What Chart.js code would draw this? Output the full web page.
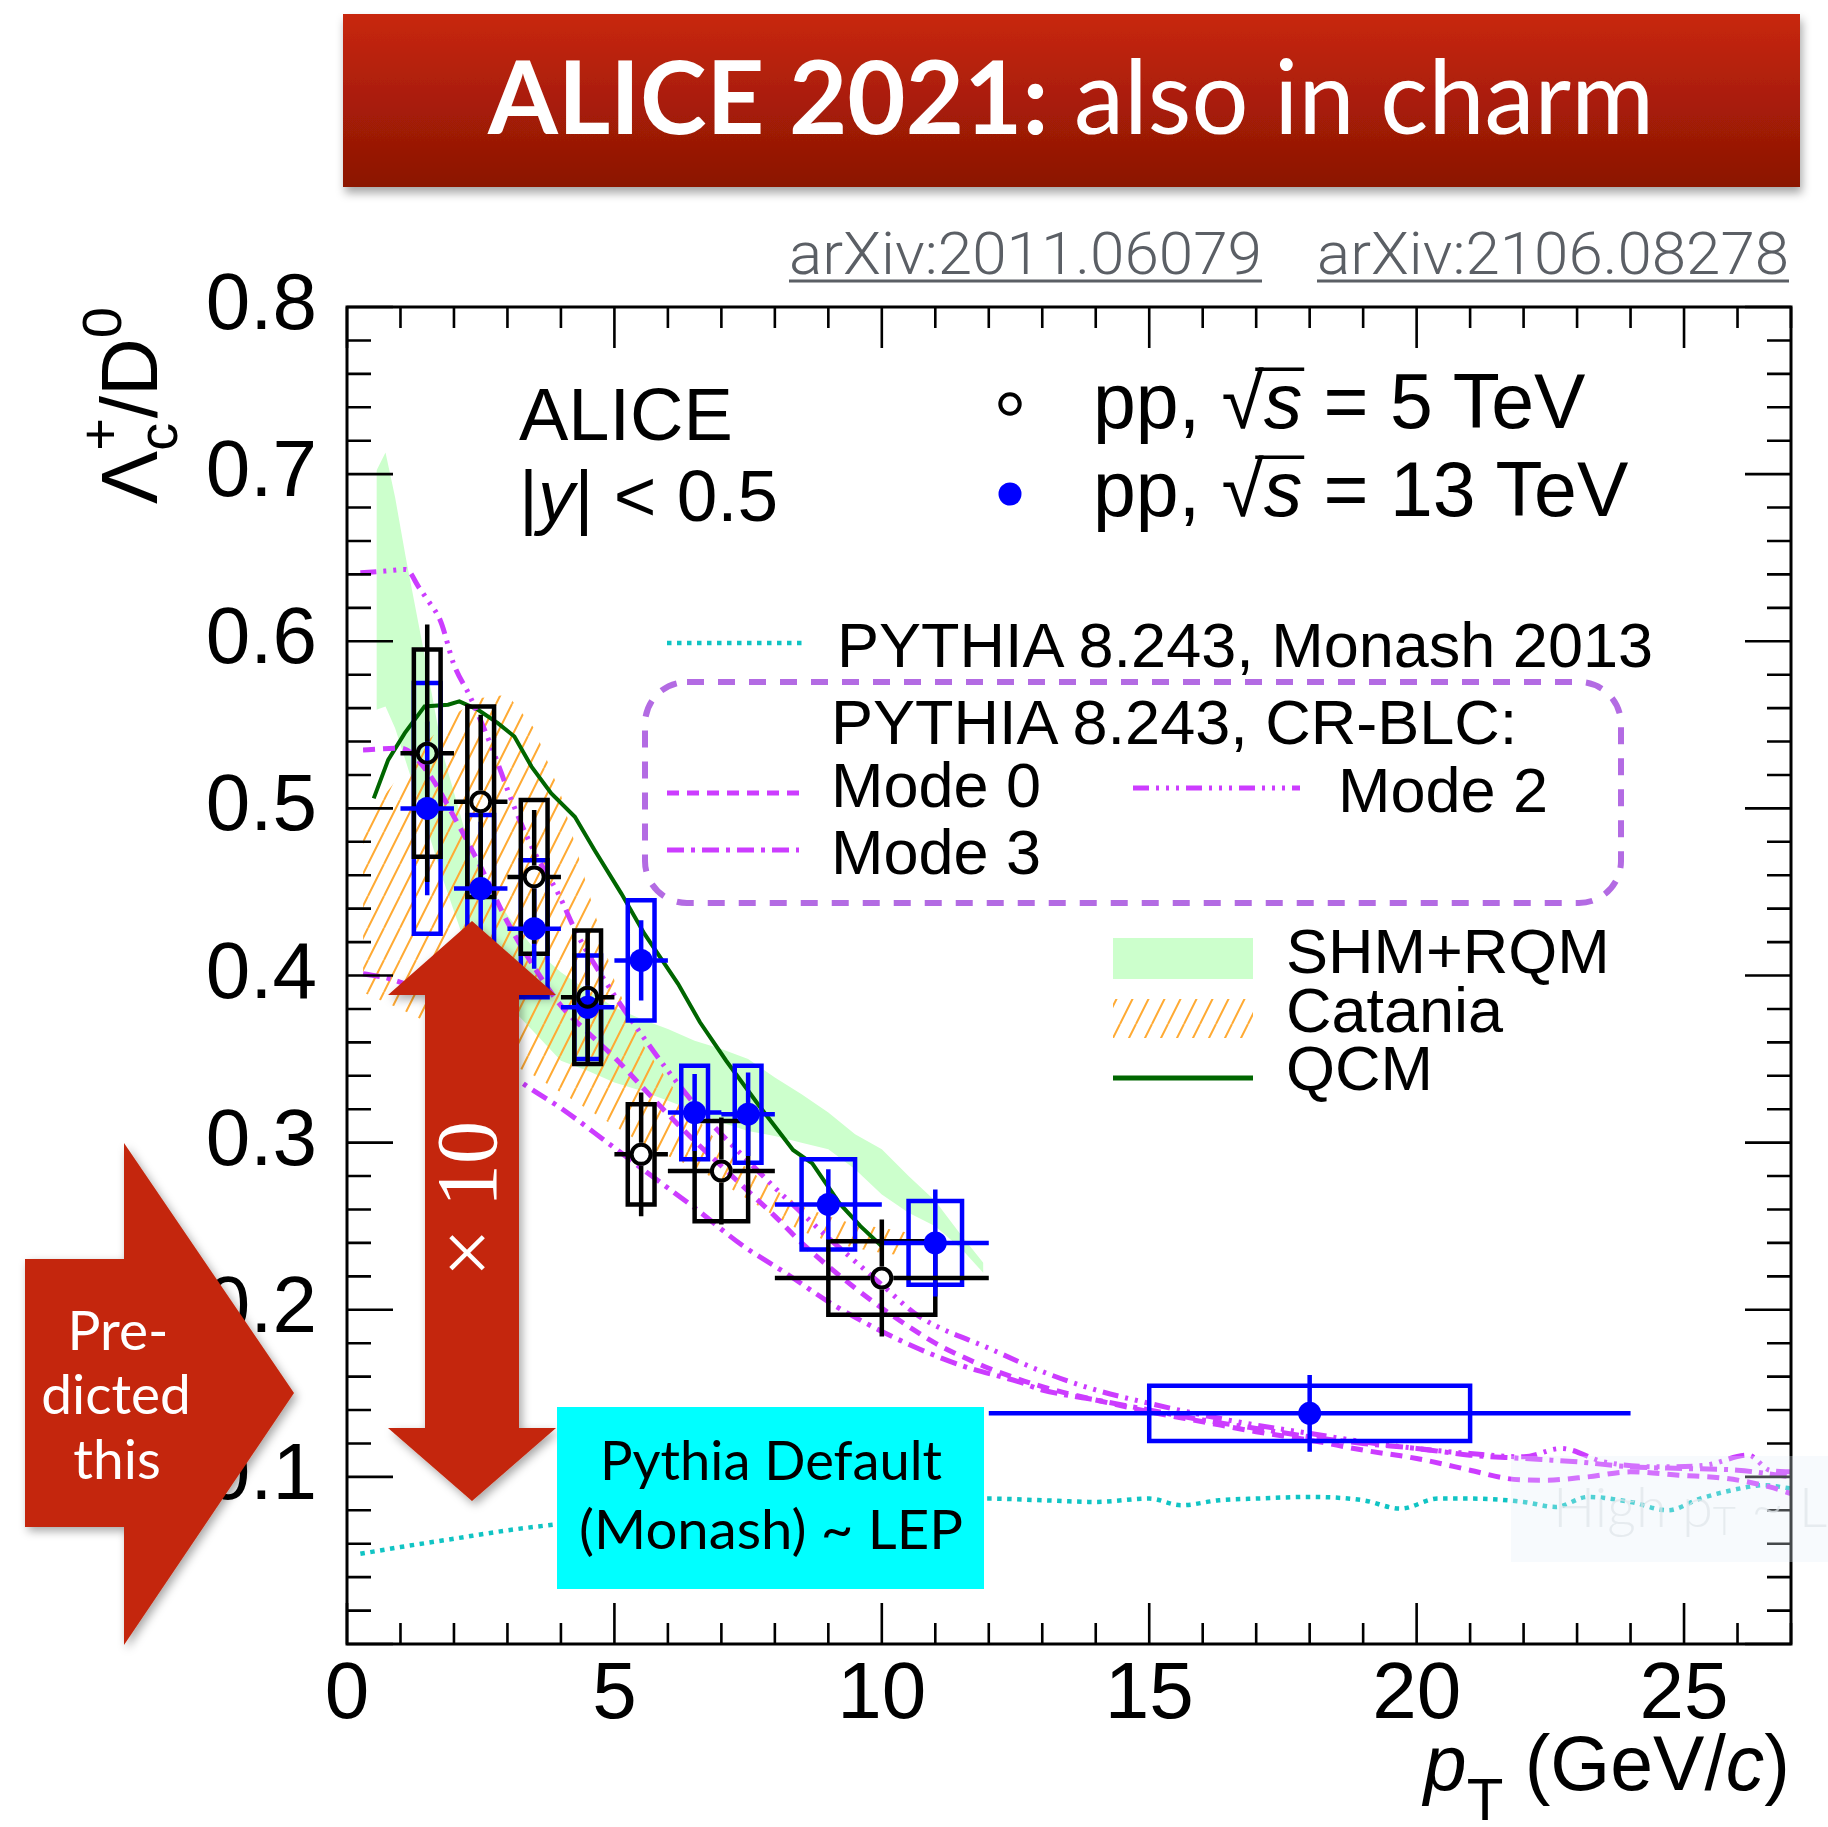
<!DOCTYPE html>
<html>
<head>
<meta charset="utf-8">
<title>ALICE 2021: Lambda_c+/D0</title>
<script src="https://cdn.jsdelivr.net/npm/chart.js@4.4.1/dist/chart.umd.min.js"></script>
<style>
  html, body { margin:0; padding:0; background:#ffffff; }
  #wrap { position:relative; width:1828px; height:1827px; overflow:hidden; background:#fff; }
  #chart { position:absolute; left:0; top:0; }
  #ov { position:absolute; left:0; top:0; pointer-events:none; }
  .hv { font-family: "Liberation Sans", Arial, Helvetica, sans-serif; }
  .av { font-family: Lato, "Open Sans", sans-serif; }
  .rb { font-family: Roboto, "Liberation Sans", sans-serif; }
</style>
</head>
<body>
<div id="wrap">
<canvas id="chart" width="1828" height="1827"></canvas>
<svg id="ov" width="1828" height="1827" xmlns="http://www.w3.org/2000/svg">
  <defs>
    <linearGradient id="ban" x1="0" y1="0" x2="0" y2="1">
      <stop offset="0" stop-color="#c8270b"/>
      <stop offset="1" stop-color="#8b1404"/>
    </linearGradient>
    <filter id="sh" x="-10%" y="-20%" width="125%" height="160%">
      <feDropShadow dx="2" dy="6" stdDeviation="5" flood-color="#000" flood-opacity="0.35"/>
    </filter>
    <filter id="sh2" x="-30%" y="-20%" width="160%" height="140%">
      <feDropShadow dx="3" dy="4" stdDeviation="5" flood-color="#000" flood-opacity="0.35"/>
    </filter>
    <pattern id="hatch" patternUnits="userSpaceOnUse" width="16" height="32">
      <path d="M-16 32 L0 0 M0 32 L16 0 M16 32 L32 0" stroke="#ffaa33" stroke-width="2"/>
    </pattern>
  </defs>

  <!-- title banner -->
  <rect x="343" y="14" width="1457" height="173" fill="url(#ban)" filter="url(#sh)"/>
  <text x="1071" y="134" text-anchor="middle" class="av" font-size="102" fill="#ffffff" textLength="1166" lengthAdjust="spacingAndGlyphs"><tspan font-weight="700">ALICE 2021:</tspan><tspan font-weight="400"> also in charm</tspan></text>

  <!-- arXiv references -->
  <text x="789" y="274" class="rb" font-size="60" font-weight="300" fill="#5b5f65" textLength="473" lengthAdjust="spacingAndGlyphs">arXiv:2011.06079</text>
  <line x1="789" y1="281" x2="1262" y2="281" stroke="#5b5f65" stroke-width="3"/>
  <text x="1317" y="274" class="rb" font-size="60" font-weight="300" fill="#5b5f65" textLength="472" lengthAdjust="spacingAndGlyphs">arXiv:2106.08278</text>
  <line x1="1317" y1="281" x2="1789" y2="281" stroke="#5b5f65" stroke-width="3"/>

  <!-- axis titles -->
  <text transform="translate(157,307) rotate(-90)" text-anchor="end" class="hv" font-size="80">Λ<tspan font-size="56" dy="20">c</tspan><tspan font-size="56" dx="-28" dy="-58">+</tspan><tspan dy="38">/D</tspan><tspan font-size="56" dy="-36">0</tspan></text>
  <text x="1790" y="1790" text-anchor="end" class="hv" font-size="77"><tspan font-style="italic">p</tspan><tspan font-size="60" dy="30">T</tspan><tspan dy="-30"> (GeV/</tspan><tspan font-style="italic">c</tspan><tspan>)</tspan></text>

  <!-- ALICE label -->
  <text x="519" y="440" class="hv" font-size="74">ALICE</text>
  <text x="519" y="521" class="hv" font-size="73">|<tspan font-style="italic">y</tspan>| &lt; 0.5</text>

  <!-- data legend -->
  <circle cx="1010" cy="404" r="9.7" fill="none" stroke="#000" stroke-width="4"/>
  <text id="leg5" x="1093" y="428" class="hv" font-size="77">pp, √<tspan font-style="italic">s</tspan> = 5 TeV</text>
  <circle cx="1010" cy="494" r="11.5" fill="#0000ff"/>
  <text id="leg13" x="1093" y="516" class="hv" font-size="77">pp, √<tspan font-style="italic">s</tspan> = 13 TeV</text>
  <g id="sqrtbars" stroke="#000" stroke-width="3.5"></g>

  <!-- PYTHIA legend -->
  <line x1="667" y1="643" x2="804" y2="643" stroke="#10c4c4" stroke-width="4.5" stroke-dasharray="4.5 5.5"/>
  <text x="837" y="667" class="hv" font-size="63">PYTHIA 8.243, Monash 2013</text>
  <rect x="645" y="682" width="976" height="221" rx="42" fill="none" stroke="#b36be3" stroke-width="6" stroke-dasharray="17 14"/>
  <text x="831" y="744" class="hv" font-size="63">PYTHIA 8.243, CR-BLC:</text>
  <line x1="667" y1="793" x2="799" y2="793" stroke="#cc3cff" stroke-width="5" stroke-dasharray="12 8"/>
  <text x="831" y="807" class="hv" font-size="63">Mode 0</text>
  <line x1="1133" y1="788" x2="1300" y2="788" stroke="#cc3cff" stroke-width="5" stroke-dasharray="16 7 3 7 3 7 3 7"/>
  <text x="1338" y="812" class="hv" font-size="63">Mode 2</text>
  <line x1="667" y1="850" x2="799" y2="850" stroke="#cc3cff" stroke-width="5" stroke-dasharray="17 7 4 7"/>
  <text x="831" y="874" class="hv" font-size="63">Mode 3</text>

  <!-- model legend -->
  <rect x="1113" y="938" width="140" height="41" fill="#ccffcc"/>
  <text x="1286" y="973" class="hv" font-size="63">SHM+RQM</text>
  <rect x="1113" y="999" width="140" height="39" fill="url(#hatch)"/>
  <text x="1286" y="1032" class="hv" font-size="63">Catania</text>
  <line x1="1113" y1="1078" x2="1253" y2="1078" stroke="#006600" stroke-width="5"/>
  <text x="1286" y="1090" class="hv" font-size="63">QCM</text>

  <!-- faint note -->
  <rect x="1511" y="1456" width="317" height="106" fill="#e6eef7" fill-opacity="0.3"/>
  <text x="1553" y="1527" class="av" font-size="56" font-weight="300" fill="#dfe5ea" fill-opacity="0.7">High p<tspan font-size="40" dy="8">T</tspan><tspan dy="-8"> ~ LEP</tspan></text>

  <!-- x10 double arrow -->
  <polygon points="472,921 556,995 519,995 519,1428 556,1428 472,1501 388,1428 425,1428 425,995 388,995" fill="#c4260a" filter="url(#sh2)"/>
  <text transform="translate(496,1199) rotate(-90)" text-anchor="middle" font-family="'Liberation Serif', 'DejaVu Serif', serif" font-size="86" fill="#ffffff">× 10</text>

  <!-- Pythia default box -->
  <rect x="557" y="1407" width="427" height="182" fill="#00ffff"/>
  <text x="771" y="1480" text-anchor="middle" class="av" font-size="54" fill="#000" textLength="342" lengthAdjust="spacingAndGlyphs">Pythia Default</text>
  <text x="771" y="1549" text-anchor="middle" class="av" font-size="54" fill="#000" textLength="384" lengthAdjust="spacingAndGlyphs">(Monash) ~ LEP</text>

  <!-- predicted arrow -->
  <polygon points="25,1259 124,1259 124,1143 294,1393 124,1645 124,1527 25,1527" fill="#c4260a" filter="url(#sh2)"/>
  <text x="118" y="1350" text-anchor="middle" class="av" font-size="55" fill="#ffffff">Pre-</text>
  <text x="116" y="1414" text-anchor="middle" class="av" font-size="55" fill="#ffffff">dicted</text>
  <text x="117" y="1479" text-anchor="middle" class="av" font-size="55" fill="#ffffff">this</text>
</svg>
</div>
<script>
// ================= DATA =================
// axis ticks
const xTickValues = [0, 5, 10, 15, 20, 25];
const xTickLabels = ['0', '5', '10', '15', '20', '25'];
const yTickValues = [0.1, 0.2, 0.3, 0.4, 0.5, 0.6, 0.7, 0.8];
const yTickLabels = ['0.1', '0.2', '0.3', '0.4', '0.5', '0.6', '0.7', '0.8'];

// pp, sqrt(s) = 5 TeV (open circles)
const pp5_pt   = [1.5, 2.5, 3.5, 4.5, 5.5, 7, 10];
const pp5_ptLo = [1, 2, 3, 4, 5, 6, 8];
const pp5_ptHi = [2, 3, 4, 5, 6, 8, 12];
const pp5_val  = [0.533, 0.504, 0.459, 0.387, 0.293, 0.283, 0.219];
const pp5_stat = [0.077, 0.052, 0.040, 0.040, 0.037, 0.032, 0.035];
const pp5_syst = [0.062, 0.057, 0.046, 0.040, 0.030, 0.030, 0.022];

// pp, sqrt(s) = 13 TeV (full blue circles)
const pp13_pt   = [1.5, 2.5, 3.5, 4.5, 5.5, 6.5, 7.5, 9, 11, 18];
const pp13_ptLo = [1, 2, 3, 4, 5, 6, 7, 8, 10, 12];
const pp13_ptHi = [2, 3, 4, 5, 6, 7, 8, 10, 12, 24];
const pp13_val  = [0.500, 0.452, 0.428, 0.381, 0.409, 0.318, 0.317, 0.263, 0.240, 0.138];
const pp13_stat = [0.052, 0.040, 0.024, 0.030, 0.024, 0.023, 0.025, 0.021, 0.032, 0.023];
const pp13_syst = [0.075, 0.044, 0.041, 0.031, 0.036, 0.028, 0.029, 0.027, 0.025, 0.0165];

// SHM+RQM band
const shm_pt = [0.55, 0.72, 0.9, 1.1, 1.4, 1.8, 2.2, 2.6, 3.0, 3.5, 4.0, 4.5, 5.0, 5.5, 6.0, 6.5, 7.0, 7.5, 8.0, 8.5, 9.0, 9.5, 10.0, 10.5, 11.0, 11.5, 11.9];
const shm_hi = [0.702, 0.713, 0.686, 0.650, 0.600, 0.532, 0.487, 0.457, 0.436, 0.416, 0.402, 0.391, 0.381, 0.374, 0.368, 0.361, 0.356, 0.350, 0.339, 0.329, 0.318, 0.305, 0.296, 0.280, 0.265, 0.244, 0.228];
const shm_lo = [0.559, 0.561, 0.548, 0.528, 0.498, 0.457, 0.420, 0.400, 0.383, 0.366, 0.349, 0.343, 0.336, 0.331, 0.325, 0.319, 0.312, 0.307, 0.304, 0.300, 0.296, 0.284, 0.269, 0.258, 0.250, 0.236, 0.222];

// Catania band
const cat_pt = [0.3, 0.5, 1.0, 1.5, 2.0, 2.5, 3.0, 3.5, 4.0, 4.5, 5.0, 5.5, 6.0, 6.5, 7.0, 7.5, 8.0, 8.5, 9.0, 9.5, 10.0, 10.5];
const cat_hi = [0.493, 0.500, 0.520, 0.540, 0.556, 0.566, 0.568, 0.548, 0.508, 0.452, 0.397, 0.360, 0.337, 0.316, 0.298, 0.284, 0.272, 0.262, 0.256, 0.251, 0.249, 0.246];
const cat_lo = [0.390, 0.387, 0.380, 0.372, 0.364, 0.356, 0.348, 0.340, 0.330, 0.320, 0.310, 0.300, 0.292, 0.285, 0.276, 0.266, 0.256, 0.247, 0.241, 0.237, 0.234, 0.232];

// QCM
const qcm_pt  = [0.5, 0.77, 1.08, 1.45, 1.89, 2.1, 2.45, 2.82, 3.13, 3.45, 3.82, 4.26, 4.63, 5.13, 5.56, 6.19, 6.6, 7.09, 7.72, 8.34, 8.7, 9.21, 9.6, 10.0];
const qcm_val = [0.506, 0.529, 0.545, 0.561, 0.562, 0.564, 0.559, 0.551, 0.543, 0.525, 0.509, 0.495, 0.475, 0.449, 0.425, 0.395, 0.372, 0.349, 0.3215, 0.2956, 0.2876, 0.2636, 0.250, 0.238];

// PYTHIA 8.243 Monash 2013
const monash_pt  = [0.25, 1, 2, 3, 4, 5, 6, 7, 8, 9, 10, 11, 12, 13, 14, 15, 15.6, 16.3, 17, 18, 19, 19.7, 20.4, 21, 22, 22.6, 23.2, 24, 24.7, 25.3, 26.2, 26.5, 27];
const monash_val = [0.054, 0.058, 0.063, 0.068, 0.072, 0.076, 0.079, 0.081, 0.083, 0.084, 0.085, 0.086, 0.087, 0.086, 0.085, 0.087, 0.083, 0.086, 0.087, 0.088, 0.086, 0.081, 0.087, 0.087, 0.085, 0.082, 0.088, 0.085, 0.080, 0.087, 0.094, 0.095, 0.093];

// PYTHIA 8.243 CR-BLC Mode 0
const mode0_pt  = [0.3, 1.0, 1.5, 2.0, 2.5, 3.0, 3.5, 4.0, 4.5, 5.0, 5.5, 6.0, 6.5, 7.0, 7.5, 8.0, 8.5, 9.0, 9.5, 10.0, 10.5, 11.0, 11.5, 12.0, 13, 14, 15, 16, 17, 18, 19, 20, 21, 21.7, 22.4, 23.2, 24, 24.9, 25.8, 26.6, 27];
const mode0_val = [0.535, 0.536, 0.522, 0.495, 0.465, 0.432, 0.405, 0.382, 0.366, 0.351, 0.334, 0.317, 0.301, 0.286, 0.271, 0.256, 0.240, 0.226, 0.213, 0.201, 0.190, 0.180, 0.172, 0.165, 0.154, 0.146, 0.139, 0.133, 0.127, 0.122, 0.116, 0.111, 0.104, 0.099, 0.098, 0.100, 0.103, 0.101, 0.099, 0.094, 0.090];

// Mode 2
const mode2_pt  = [0.25, 0.7, 1.1, 1.35, 1.5, 1.75, 2.0, 2.3, 2.7, 3.1, 3.5, 3.95, 4.3, 4.9, 5.5, 6.0, 6.5, 7.0, 7.5, 8.0, 8.5, 9.0, 9.5, 10.0, 10.7, 12, 13, 14, 15, 16, 17, 18, 19, 20, 21, 22, 22.7, 23.5, 24.5, 25.4, 26.2, 26.6, 27];
const mode2_val = [0.641, 0.642, 0.643, 0.632, 0.625, 0.612, 0.586, 0.567, 0.537, 0.503, 0.474, 0.449, 0.425, 0.393, 0.365, 0.343, 0.323, 0.305, 0.289, 0.273, 0.258, 0.243, 0.229, 0.215, 0.196, 0.177, 0.163, 0.152, 0.144, 0.137, 0.131, 0.126, 0.121, 0.117, 0.114, 0.112, 0.117, 0.109, 0.106, 0.107, 0.113, 0.104, 0.103];

// Mode 3
const mode3_pt  = [0.3, 0.8, 1.5, 2.0, 2.5, 3.2, 4.03, 4.87, 5.7, 6.54, 7.37, 8.2, 9.04, 9.88, 10.7, 11.55, 12.55, 13, 14, 15, 16, 17, 18, 19, 20, 21, 22, 23, 24, 25, 26, 27];
const mode3_val = [0.401, 0.398, 0.388, 0.372, 0.356, 0.3375, 0.320, 0.300, 0.280, 0.260, 0.239, 0.222, 0.204, 0.189, 0.1765, 0.166, 0.157, 0.152, 0.146, 0.140, 0.134, 0.129, 0.124, 0.120, 0.117, 0.113, 0.111, 0.109, 0.106, 0.105, 0.104, 0.100];

// ================= STYLE =================
const C_BLACK = '#000000', C_BLUE = '#0000ff', C_MODE = '#cc3cff', C_MONASH = '#10c4c4', C_QCM = '#006600', C_SHM = '#ccffcc';
const MARKER_R = 11.5;   // outer marker radius in px
const LW = 4.5;          // data line width in px

const canvas = document.getElementById('chart');
const ctx = canvas.getContext('2d');

const hatch = (() => {
  const c = document.createElement('canvas');
  c.width = 16; c.height = 32;
  const g = c.getContext('2d');
  g.strokeStyle = '#ffaa33'; g.lineWidth = 2;
  g.beginPath();
  for (let k = -1; k <= 1; k++) { g.moveTo(k * 16, 32); g.lineTo(k * 16 + 16, 0); }
  g.stroke();
  return ctx.createPattern(c, 'repeat');
})();

const xy = (xs, ys) => xs.map((x, i) => ({ x, y: ys[i] }));

function boxData(pt, lo, hi, val, sys) {
  const out = [];
  pt.forEach((x, i) => {
    const hw = 0.25 * (hi[i] - lo[i]);
    const y0 = val[i] - sys[i], y1 = val[i] + sys[i];
    out.push({ x: x - hw, y: y0 }, { x: x + hw, y: y0 }, { x: x + hw, y: y1 }, { x: x - hw, y: y1 }, { x: x - hw, y: y0 }, { x: x, y: null });
  });
  return out;
}
function vBars(pt, val, err, gap) {
  const out = [];
  pt.forEach((x, i) => {
    if (gap > 0) {
      out.push({ x, y: val[i] - err[i] }, { x, y: val[i] - gap }, { x, y: null },
               { x, y: val[i] + gap }, { x, y: val[i] + err[i] }, { x, y: null });
    } else {
      out.push({ x, y: val[i] - err[i] }, { x, y: val[i] + err[i] }, { x, y: null });
    }
  });
  return out;
}
function hBars(pt, lo, hi, val, gap) {
  const out = [];
  pt.forEach((x, i) => {
    if (gap > 0) {
      out.push({ x: lo[i], y: val[i] }, { x: x - gap, y: val[i] }, { x: x, y: null },
               { x: x + gap, y: val[i] }, { x: hi[i], y: val[i] }, { x: x, y: null });
    } else {
      out.push({ x: lo[i], y: val[i] }, { x: hi[i], y: val[i] }, { x: x, y: null });
    }
  });
  return out;
}

const datasets = [];
function add(ds) {
  datasets.push(Object.assign({ type: 'line', pointRadius: 0, pointHoverRadius: 0, fill: false, tension: 0, spanGaps: false }, ds));
  return datasets.length - 1;
}

// bands
add({ label: 'SHM lo', data: xy(shm_pt, shm_lo), borderColor: 'rgba(0,0,0,0)', borderWidth: 1, order: 100 });
add({ label: 'SHM+RQM', data: xy(shm_pt, shm_hi), borderColor: 'rgba(0,0,0,0)', borderWidth: 1, fill: '-1', backgroundColor: C_SHM, order: 100 });
add({ label: 'Catania lo', data: xy(cat_pt, cat_lo), borderColor: 'rgba(0,0,0,0)', borderWidth: 1, order: 90 });
add({ label: 'Catania', data: xy(cat_pt, cat_hi), borderColor: 'rgba(0,0,0,0)', borderWidth: 1, fill: '-1', backgroundColor: hatch, order: 90 });
// model curves
add({ label: 'QCM', data: xy(qcm_pt, qcm_val), borderColor: C_QCM, borderWidth: 4, order: 80, clip: 0 });
add({ label: 'Monash', data: xy(monash_pt, monash_val), borderColor: C_MONASH, borderWidth: 4.5, borderDash: [4.5, 5.5], order: 80, clip: 0, cubicInterpolationMode: 'monotone' });
add({ label: 'Mode 0', data: xy(mode0_pt, mode0_val), borderColor: C_MODE, borderWidth: 5, borderDash: [12, 8], order: 75, clip: 0, cubicInterpolationMode: 'monotone' });
add({ label: 'Mode 2', data: xy(mode2_pt, mode2_val), borderColor: C_MODE, borderWidth: 5, borderDash: [16, 7, 3, 7, 3, 7, 3, 7], order: 75, clip: 0, cubicInterpolationMode: 'monotone' });
add({ label: 'Mode 3', data: xy(mode3_pt, mode3_val), borderColor: C_MODE, borderWidth: 5, borderDash: [17, 7, 4, 7], order: 75, clip: 0, cubicInterpolationMode: 'monotone' });
// data: systematic boxes
add({ label: '13 TeV syst', data: boxData(pp13_pt, pp13_ptLo, pp13_ptHi, pp13_val, pp13_syst), borderColor: C_BLUE, borderWidth: LW, borderCapStyle: 'square', borderJoinStyle: 'miter', order: 60 });
add({ label: '5 TeV syst', data: boxData(pp5_pt, pp5_ptLo, pp5_ptHi, pp5_val, pp5_syst), borderColor: C_BLACK, borderWidth: LW, borderCapStyle: 'square', borderJoinStyle: 'miter', order: 55 });
// stat + bin width bars
add({ label: '13 TeV stat', data: vBars(pp13_pt, pp13_val, pp13_stat, 0), borderColor: C_BLUE, borderWidth: LW, order: 50 });
add({ label: '13 TeV bins', data: hBars(pp13_pt, pp13_ptLo, pp13_ptHi, pp13_val, 0), borderColor: C_BLUE, borderWidth: LW, order: 50 });
const iPp5Stat = add({ label: '5 TeV stat', data: vBars(pp5_pt, pp5_val, pp5_stat, 0), borderColor: C_BLACK, borderWidth: LW, order: 45 });
const iPp5Bins = add({ label: '5 TeV bins', data: hBars(pp5_pt, pp5_ptLo, pp5_ptHi, pp5_val, 0), borderColor: C_BLACK, borderWidth: LW, order: 45 });
// markers
add({ label: 'pp 13 TeV', data: xy(pp13_pt, pp13_val), showLine: false, pointStyle: 'circle', pointRadius: MARKER_R, pointBorderWidth: 0, pointBackgroundColor: C_BLUE, pointBorderColor: C_BLUE, order: 40 });
add({ label: 'pp 5 TeV', data: xy(pp5_pt, pp5_val), showLine: false, pointStyle: 'circle', pointRadius: MARKER_R - 2, pointBorderWidth: 4, pointBackgroundColor: 'rgba(0,0,0,0)', pointBorderColor: C_BLACK, order: 35 });

// ROOT-like frame with inward ticks on all four sides
const rootFrame = {
  id: 'rootFrame',
  afterDatasetsDraw(chart) {
    const { ctx, chartArea: a, scales: { x, y } } = chart;
    ctx.save();
    ctx.strokeStyle = '#000';
    ctx.lineWidth = 3;
    ctx.strokeRect(a.left, a.top, a.right - a.left, a.bottom - a.top);
    ctx.lineWidth = 2.6;
    ctx.beginPath();
    for (let i = 0; i <= 27; i++) {
      const px = x.getPixelForValue(i);
      const L = (i % 5 === 0) ? 41 : 21;
      ctx.moveTo(px, a.bottom); ctx.lineTo(px, a.bottom - L);
      ctx.moveTo(px, a.top); ctx.lineTo(px, a.top + L);
    }
    for (let j = 0; j <= 40; j++) {
      const py = y.getPixelForValue(j * 0.02);
      const L = (j % 5 === 0) ? 46 : 24;
      ctx.moveTo(a.left, py); ctx.lineTo(a.left + L, py);
      ctx.moveTo(a.right, py); ctx.lineTo(a.right - L, py);
    }
    ctx.stroke();
    ctx.restore();
  }
};

const tickFont = { family: "'Liberation Sans', Arial, sans-serif", size: 80 };

const chart = new Chart(ctx, {
  type: 'line',
  data: { datasets },
  options: {
    responsive: false,
    maintainAspectRatio: false,
    animation: false,
    devicePixelRatio: 1,
    events: [],
    layout: { padding: { left: 0, right: 37, top: 307, bottom: 0 } },
    plugins: { legend: { display: false }, tooltip: { enabled: false }, title: { display: false } },
    scales: {
      x: {
        type: 'linear', min: 0, max: 27,
        grid: { display: false, drawTicks: false },
        border: { display: false },
        afterBuildTicks: s => { s.ticks = xTickValues.map(v => ({ value: v })); },
        ticks: { autoSkip: false, maxRotation: 0, minRotation: 0, padding: 4, color: '#000', font: tickFont,
                 callback: (v, i) => xTickLabels[i] },
        afterFit: s => { s.height = 183; }
      },
      y: {
        type: 'linear', min: 0, max: 0.8,
        grid: { display: false, drawTicks: false },
        border: { display: false },
        afterBuildTicks: s => { s.ticks = yTickValues.map(v => ({ value: v })); },
        ticks: { autoSkip: false, padding: 30, color: '#000', font: tickFont,
                 callback: (v, i) => yTickLabels[i] },
        afterFit: s => { s.width = 347; }
      }
    }
  },
  plugins: [rootFrame]
});

// leave the marker area free of the 5 TeV error bars (ROOT style), using the chart's own scales
(function () {
  const xs = chart.scales.x, ys = chart.scales.y;
  const gapY = MARKER_R / Math.abs(ys.getPixelForValue(0) - ys.getPixelForValue(1));
  const gapX = MARKER_R / Math.abs(xs.getPixelForValue(1) - xs.getPixelForValue(0));
  chart.data.datasets[iPp5Stat].data = vBars(pp5_pt, pp5_val, pp5_stat, gapY);
  chart.data.datasets[iPp5Bins].data = hBars(pp5_pt, pp5_ptLo, pp5_ptHi, pp5_val, gapX);
  chart.update('none');
})();

// radical bar over "s" in the legend (placed from the rendered glyph extents)
(function () {
  const g = document.getElementById('sqrtbars');
  ['leg5', 'leg13'].forEach(id => {
    const t = document.getElementById(id);
    try {
      const r = t.getExtentOfChar(4);   // the radical sign
      const s = t.getExtentOfChar(5);   // the "s"
      const yTop = r.y + r.height * 0.13;
      const ln = document.createElementNS('http://www.w3.org/2000/svg', 'line');
      ln.setAttribute('x1', r.x + r.width * 0.8);
      ln.setAttribute('x2', s.x + s.width + 2);
      ln.setAttribute('y1', yTop);
      ln.setAttribute('y2', yTop);
      g.appendChild(ln);
    } catch (e) {}
  });
})();
</script>
</body>
</html>
